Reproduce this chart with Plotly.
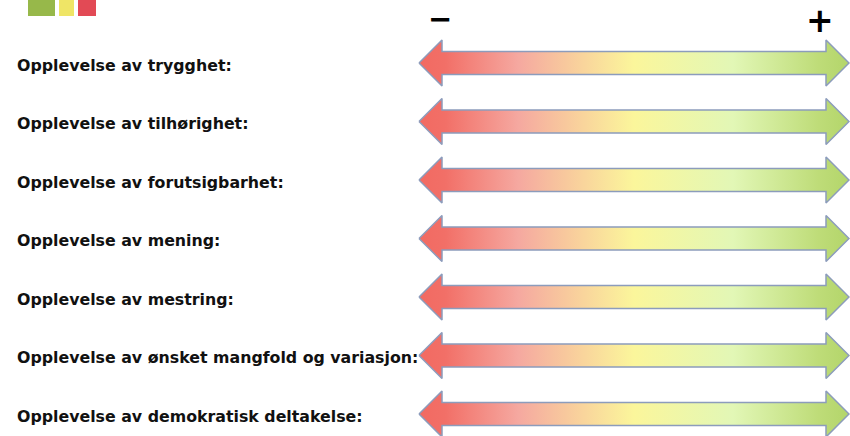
import plotly.graph_objects as go

# ---- data ----
labels = [
    "Opplevelse av trygghet:",
    "Opplevelse av tilhørighet:",
    "Opplevelse av forutsigbarhet:",
    "Opplevelse av mening:",
    "Opplevelse av mestring:",
    "Opplevelse av ønsket mangfold og variasjon:",
    "Opplevelse av demokratisk deltakelse:",
]
scale_min = -1   # "−" end
scale_max = 1    # "+" end
end_labels = ["−", "+"]
logo_colors = ["#97b84a", "#efe566", "#e24a55"]

# ---- styling / geometry ----
W, H = 850, 436
PX_LEFT, PX_RIGHT = 419, 849          # arrow tips in px
ROW0_PX, ROW_STEP_PX = 63, 58.5
px_per_unit = (PX_RIGHT - PX_LEFT) / (scale_max - scale_min)
x_range = [scale_min - PX_LEFT / px_per_unit, scale_max + (W - PX_RIGHT) / px_per_unit]
y_range = [(H - ROW0_PX) / ROW_STEP_PX, -ROW0_PX / ROW_STEP_PX]

head_len = 23 / px_per_unit
head_half = 23 / ROW_STEP_PX
shaft_half = 11.5 / ROW_STEP_PX

gradient = [
    [0.0, "#f26a62"], [0.06, "#f26f67"], [0.23, "#f5a8a0"], [0.38, "#f9d49c"],
    [0.5, "#fbf69b"], [0.73, "#e2f7b6"], [0.93, "#bedc78"], [1.0, "#b3d56a"],
]

fig = go.Figure()
for i, lab in enumerate(labels):
    c = i
    x0, x1 = scale_min, scale_max
    xs = [x0, x0 + head_len, x0 + head_len, x1 - head_len, x1 - head_len, x1,
          x1 - head_len, x1 - head_len, x0 + head_len, x0 + head_len, x0]
    ys = [c, c - head_half, c - shaft_half, c - shaft_half, c - head_half, c,
          c + head_half, c + shaft_half, c + shaft_half, c + head_half, c]
    fig.add_trace(go.Scatter(
        x=xs, y=ys, mode="lines", fill="toself",
        fillgradient=dict(type="horizontal", colorscale=gradient),
        line=dict(color="#8c9cbc", width=1.5),
        hoverinfo="skip", showlegend=False,
    ))
    fig.add_annotation(
        x=15 / W, xref="paper", y=c + 0.04, yref="y", text=lab, showarrow=False,
        xanchor="left", yanchor="middle",
        font=dict(family="DejaVu Sans", size=15.8, color="#111111", weight="bold"),
    )

# end markers
fig.add_annotation(
    x=scale_min + 21 / px_per_unit, xref="x", y=1 - 18.5 / H, yref="paper",
    text=end_labels[0], showarrow=False, xanchor="center", yanchor="middle",
    font=dict(family="DejaVu Sans", size=29, color="black", weight="bold"),
)
fig.add_annotation(
    x=scale_max - 29.5 / px_per_unit, xref="x", y=1 - 21 / H, yref="paper",
    text=end_labels[1], showarrow=False, xanchor="center", yanchor="middle",
    font=dict(family="DejaVu Sans", size=33, color="black", weight="bold"),
)

# logo squares
logo_boxes = [(28, 55), (59, 74), (78, 96)]
for (a, b), col in zip(logo_boxes, logo_colors):
    fig.add_shape(type="rect", xref="paper", yref="paper",
                  x0=a / W, x1=b / W, y0=1 - 16 / H, y1=1.0,
                  fillcolor=col, line=dict(width=0), layer="above")

fig.update_layout(
    width=W, height=H, margin=dict(l=0, r=0, t=0, b=0),
    paper_bgcolor="white", plot_bgcolor="white",
    xaxis=dict(range=x_range, visible=False, fixedrange=True),
    yaxis=dict(range=y_range, visible=False, fixedrange=True),
)
fig.write_html("out.html", config={"displayModeBar": False},
               post_script="document.body.style.margin='0px';")
